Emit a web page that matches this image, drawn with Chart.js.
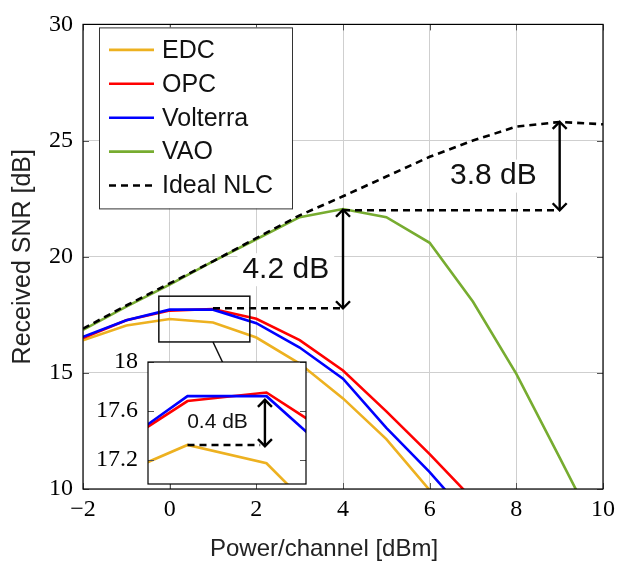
<!DOCTYPE html>
<html>
<head>
<meta charset="utf-8">
<script src="https://cdn.jsdelivr.net/npm/chart.js@4.4.1/dist/chart.umd.min.js"></script>
<style>
  html, body { margin: 0; padding: 0; background: #fff; }
  #wrap { position: relative; width: 624px; height: 563px; }
  #wrap canvas { position: absolute; left: 0; top: 0; }
</style>
</head>
<body>
<div id="wrap">
  <canvas id="snrChart" width="624" height="563"></canvas>
  <canvas id="zoomChart" width="624" height="563"></canvas>
</div>
<script>
// launch power per channel [dBm]
const power = [-2, -1, 0, 1, 2, 3, 4, 5, 6, 7, 8, 9, 10];
// received SNR [dB]
const snrEDC      = [16.40, 17.04, 17.32, 17.17, 16.52, 15.40, 13.90, 12.15, 9.95, 7.80, null, null, null];
const snrOPC      = [16.50, 17.26, 17.68, 17.75, 17.33, 16.41, 15.10, 13.34, 11.50, 9.55, null, null, null];
const snrVolterra = [16.55, 17.26, 17.72, 17.72, 17.14, 16.09, 14.75, 12.63, 10.73, 8.60, null, null, null];
const snrVAO      = [16.85, 17.85, 18.80, 19.80, 20.75, 21.70, 22.05, 21.70, 20.60, 18.06, 14.96, 11.35, 7.70];
const snrIdeal    = [16.90, 17.90, 18.85, 19.80, 20.80, 21.78, 22.60, 23.45, 24.30, 25.00, 25.60, 25.80, 25.70];

const xTicks = [-2, 0, 2, 4, 6, 8, 10];
const yTicks = [10, 15, 20, 25, 30];
const insetTicks = [17.2, 17.6, 18];

// annotations (data units)
const gapLines = [{ x1: 1, x2: 4, y: 17.78 }, { x1: 4, x2: 9, y: 22.0 }];
const gapArrows = [{ x: 4, from: 17.78, to: 22.02 }, { x: 9, from: 22.0, to: 25.8 }];
const gapLabels = [{ x: 2.68, y: 19.44, text: '4.2 dB' }, { x: 7.47, y: 23.47, text: '3.8 dB' }];
const zoomBox = { x1: -0.25, x2: 1.85, y1: 16.33, y2: 18.3 };
const zoomLink = { x1: 1.0, y1: 16.33, x2: 1.24, y2: 15.38 };
const insetGapLine = { x1: 0, x2: 0.92, y: 17.32 };
const insetArrow = { x: 0.98, from: 17.31, to: 17.69 };
const insetLabel = { x: 0.38, y: 17.51, text: '0.4 dB' };

const SERIF = '"Liberation Serif", "DejaVu Serif", serif';
const SANS = '"Liberation Sans", Arial, sans-serif';

const toPoints = (ys) => power.map((p, i) => ({ x: p, y: ys[i] }));

function makeDatasets(withAll) {
  const sets = [
    { label: 'EDC', data: toPoints(snrEDC), borderColor: '#EDB120', order: 5 },
    { label: 'OPC', data: toPoints(snrOPC), borderColor: '#FF0000', order: 4 },
    { label: 'Volterra', data: toPoints(snrVolterra), borderColor: '#0000FF', order: 3 },
  ];
  if (withAll) {
    sets.push({ label: 'VAO', data: toPoints(snrVAO), borderColor: '#77AC30', order: 2 });
    sets.push({ label: 'Ideal NLC', data: toPoints(snrIdeal), borderColor: '#000000', borderDash: [7, 5], order: 1 });
  }
  sets.forEach(s => {
    s.borderWidth = 2.6;
    s.pointRadius = 0;
    s.tension = 0;
    s.clip = 0;
    s.fill = false;
  });
  return sets;
}

const fmtTick = (v) => {
  let s = Number.isInteger(v) ? String(v) : v.toFixed(1);
  return s.replace('-', '\u2212');
};

function drawHead(ctx, x, y, dir) {
  ctx.beginPath();
  ctx.moveTo(x - 7, y - dir * 7);
  ctx.lineTo(x, y);
  ctx.lineTo(x + 7, y - dir * 7);
  ctx.stroke();
}

function drawArrow(chart, a) {
  const { ctx, scales: { x, y } } = chart;
  const px = x.getPixelForValue(a.x);
  const yb = y.getPixelForValue(a.from);
  const yt = y.getPixelForValue(a.to);
  ctx.save();
  ctx.strokeStyle = '#000';
  ctx.lineWidth = 2.4;
  ctx.beginPath();
  ctx.moveTo(px, yb - 1);
  ctx.lineTo(px, yt + 1);
  ctx.stroke();
  drawHead(ctx, px, yb, 1);
  drawHead(ctx, px, yt, -1);
  ctx.restore();
}

function drawDashed(chart, l) {
  const { ctx, scales: { x, y } } = chart;
  ctx.save();
  ctx.strokeStyle = '#000';
  ctx.lineWidth = 2.6;
  ctx.setLineDash([7, 5]);
  ctx.beginPath();
  ctx.moveTo(x.getPixelForValue(l.x1), y.getPixelForValue(l.y));
  ctx.lineTo(x.getPixelForValue(l.x2), y.getPixelForValue(l.y));
  ctx.stroke();
  ctx.restore();
}

function labelBg(chart, lb, size) {
  const { ctx, scales: { x, y } } = chart;
  ctx.save();
  ctx.font = `${size}px ${SANS}`;
  const w = ctx.measureText(lb.text).width;
  ctx.fillStyle = '#fff';
  ctx.fillRect(x.getPixelForValue(lb.x) - w / 2 - 5, y.getPixelForValue(lb.y) - size * 0.55, w + 10, size * 1.1);
  ctx.restore();
}

function labelText(chart, lb, size) {
  const { ctx, scales: { x, y } } = chart;
  ctx.save();
  ctx.font = `${size}px ${SANS}`;
  ctx.fillStyle = '#111';
  ctx.textAlign = 'center';
  ctx.textBaseline = 'middle';
  ctx.fillText(lb.text, x.getPixelForValue(lb.x), y.getPixelForValue(lb.y));
  ctx.restore();
}

function frameAndTicks(chart, xVals, yVals) {
  const { ctx, chartArea: a, scales: { x, y } } = chart;
  ctx.save();
  ctx.strokeStyle = '#555';
  ctx.lineWidth = 1;
  ctx.beginPath();
  xVals.forEach(v => {
    const p = Math.round(x.getPixelForValue(v)) + 0.5;
    ctx.moveTo(p, a.bottom); ctx.lineTo(p, a.bottom - 6);
    ctx.moveTo(p, a.top); ctx.lineTo(p, a.top + 6);
  });
  yVals.forEach(v => {
    const p = Math.round(y.getPixelForValue(v)) + 0.5;
    ctx.moveTo(a.left, p); ctx.lineTo(a.left + 6, p);
    ctx.moveTo(a.right, p); ctx.lineTo(a.right - 6, p);
  });
  ctx.stroke();
  ctx.strokeStyle = '#000';
  ctx.lineWidth = 1.2;
  ctx.strokeRect(a.left, a.top, a.right - a.left, a.bottom - a.top);
  ctx.restore();
}

const mainDecor = {
  id: 'mainDecor',
  beforeDatasetsDraw(chart) {
    gapLabels.forEach(lb => labelBg(chart, lb, 30));
  },
  afterDatasetsDraw(chart) {
    const { ctx, scales: { x, y } } = chart;
    gapLines.forEach(l => drawDashed(chart, l));
    gapArrows.forEach(a => drawArrow(chart, a));
    gapLabels.forEach(lb => labelText(chart, lb, 30));
    // zoom rectangle and its link to the inset
    ctx.save();
    ctx.strokeStyle = '#111';
    ctx.lineWidth = 1.5;
    const bx1 = x.getPixelForValue(zoomBox.x1), bx2 = x.getPixelForValue(zoomBox.x2);
    const by1 = y.getPixelForValue(zoomBox.y1), by2 = y.getPixelForValue(zoomBox.y2);
    ctx.strokeRect(bx1, by2, bx2 - bx1, by1 - by2);
    ctx.beginPath();
    ctx.moveTo(x.getPixelForValue(zoomLink.x1), y.getPixelForValue(zoomLink.y1));
    ctx.lineTo(x.getPixelForValue(zoomLink.x2), y.getPixelForValue(zoomLink.y2));
    ctx.stroke();
    ctx.restore();
  },
  afterDraw(chart) {
    const { ctx, chartArea: a } = chart;
    frameAndTicks(chart, xTicks, yTicks);
    // x axis title
    ctx.save();
    ctx.font = `24px ${SANS}`;
    ctx.fillStyle = '#222';
    ctx.textAlign = 'center';
    ctx.textBaseline = 'middle';
    ctx.fillText('Power/channel [dBm]', (a.left + a.right) / 2 - 19, 549);
    // legend
    const lx = a.left + 16, ly = a.top + 3, lw = 193, lh = 181;
    ctx.fillStyle = '#fff';
    ctx.fillRect(lx, ly, lw, lh);
    ctx.strokeStyle = '#333';
    ctx.lineWidth = 1;
    ctx.strokeRect(lx + 0.5, ly + 0.5, lw, lh);
    ctx.font = `25px ${SANS}`;
    ctx.textAlign = 'left';
    chart.data.datasets.forEach((ds, i) => {
      const cy = ly + 22.5 + i * 33.9;
      ctx.strokeStyle = ds.borderColor;
      ctx.lineWidth = 2.6;
      ctx.setLineDash(ds.borderDash || []);
      ctx.beginPath();
      ctx.moveTo(lx + 10, cy);
      ctx.lineTo(lx + 55, cy);
      ctx.stroke();
      ctx.setLineDash([]);
      ctx.fillStyle = '#111';
      ctx.fillText(ds.label, lx + 63, cy + 1);
    });
    ctx.restore();
  }
};

new Chart(document.getElementById('snrChart'), {
  type: 'line',
  data: { datasets: makeDatasets(true) },
  plugins: [mainDecor],
  options: {
    responsive: false,
    animation: false,
    devicePixelRatio: 1,
    layout: { padding: { left: 0, right: 21, top: 16, bottom: 0 } },
    plugins: { legend: { display: false }, tooltip: { enabled: false } },
    scales: {
      x: {
        type: 'linear', min: -2, max: 10,
        afterBuildTicks: (s) => { s.ticks = xTicks.map(v => ({ value: v })); },
        afterFit: (s) => { s.height = 74; },
        ticks: { font: { family: SERIF, size: 24 }, color: '#000', padding: 6, maxRotation: 0, callback: fmtTick },
        grid: { color: '#cfcfcf', drawTicks: false },
        border: { display: false }
      },
      y: {
        type: 'linear', min: 10, max: 30,
        afterBuildTicks: (s) => { s.ticks = yTicks.map(v => ({ value: v })); },
        afterFit: (s) => { s.width = 83; },
        ticks: { font: { family: SERIF, size: 24 }, color: '#000', padding: 10, callback: fmtTick },
        grid: { color: '#cfcfcf', drawTicks: false },
        border: { display: false },
        title: { display: true, text: 'Received SNR [dB]', font: { family: SANS, size: 25 }, color: '#222', padding: { top: 8, bottom: 0 } }
      }
    }
  }
});

const insetDecor = {
  id: 'insetDecor',
  beforeDraw(chart) {
    const { ctx, chartArea: a } = chart;
    ctx.save();
    ctx.fillStyle = '#fff';
    ctx.fillRect(a.left, a.top, a.right - a.left, a.bottom - a.top);
    ctx.restore();
  },
  afterDatasetsDraw(chart) {
    drawDashed(chart, insetGapLine);
    drawArrow(chart, insetArrow);
    labelText(chart, insetLabel, 21);
  },
  afterDraw(chart) {
    frameAndTicks(chart, [], insetTicks);
  }
};

new Chart(document.getElementById('zoomChart'), {
  type: 'line',
  data: { datasets: makeDatasets(false) },
  plugins: [insetDecor],
  options: {
    responsive: false,
    animation: false,
    devicePixelRatio: 1,
    layout: { padding: { left: 0, right: 318, top: 362, bottom: 79 } },
    plugins: { legend: { display: false }, tooltip: { enabled: false } },
    scales: {
      x: { type: 'linear', min: -0.5, max: 1.5, display: false },
      y: {
        type: 'linear', min: 17, max: 18,
        afterBuildTicks: (s) => { s.ticks = insetTicks.map(v => ({ value: v })); },
        afterFit: (s) => { s.width = 148; },
        ticks: { font: { family: SERIF, size: 24 }, color: '#000', padding: 10, callback: fmtTick },
        grid: { display: false, drawTicks: false },
        border: { display: false }
      }
    }
  }
});
</script>
</body>
</html>
